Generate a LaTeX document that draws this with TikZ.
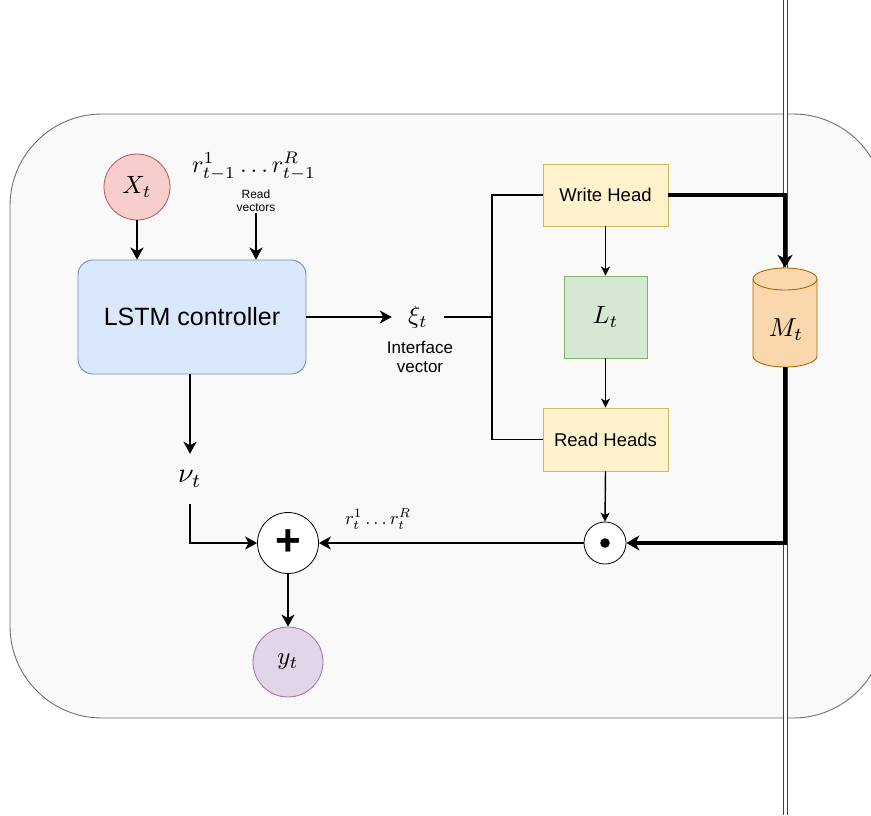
\RequirePackage{fix-cm}
\documentclass[tikz,border=0pt]{standalone}
\usepackage{fontspec}
\setmainfont{Liberation Sans}
\usetikzlibrary{arrows.meta}
\definecolor{bgfill}{HTML}{F9F9F9}
\definecolor{bgdraw}{HTML}{707070}
\definecolor{xfill}{HTML}{F8CECC}
\definecolor{xdraw}{HTML}{B85450}
\definecolor{bfill}{HTML}{DAE8FC}
\definecolor{bdraw}{HTML}{6C8EBF}
\definecolor{yfill}{HTML}{FFF2CC}
\definecolor{ydraw}{HTML}{D6B656}
\definecolor{gfill}{HTML}{D5E8D4}
\definecolor{gdraw}{HTML}{82B366}
\definecolor{ofill}{HTML}{FAD7AC}
\definecolor{odraw}{HTML}{B46504}
\definecolor{pfill}{HTML}{E1D5E7}
\definecolor{pdraw}{HTML}{9673A6}
\newcommand{\mbx}[2][2.5]{\scalebox{#1}{$#2$}}
\begin{document}
\begin{tikzpicture}[x=1pt,y=-1pt,
  circ/.style={circle, draw, line width=0.8pt, inner sep=0pt},
  box/.style={rectangle, draw, line width=0.9pt, inner sep=0pt},
  lbl/.style={font=\fontsize{17}{19}\selectfont, align=center},
  thn/.style={line width=1.4pt},
  thk/.style={line width=2.3pt},
  vthk/.style={line width=3.4pt},
  arrS/.style={-{Stealth[length=9pt,width=9pt,inset=2.5pt]}},
  arrM/.style={-{Stealth[length=12pt,width=13pt,inset=3.5pt]}},
  arrL/.style={-{Stealth[length=13pt,width=15pt,inset=4pt]}}]
\useasboundingbox (0,0) rectangle (871,815);
% background container
\draw[fill=bgfill, draw=bgdraw, line width=0.9pt, rounded corners=92pt] (10,114) rectangle (885,718);
% vertical double line
\coordinate (vt) at (785.5,0);
\coordinate (vb) at (785.5,815);
\draw[double=white, double distance=3.6pt, line width=0.9pt, draw=black!75] (vt) -- (vb);

% nodes
\node[circ, fill=xfill, draw=xdraw, minimum size=66pt] (X) at (137,187) {\mbx{X_t}};
\node[inner sep=0pt] (rv) at (254,166) {\mbx[2.4]{r^1_{t-1}\dots r^R_{t-1}}};
\node[font=\fontsize{12}{13}\selectfont, align=center, inner sep=1pt] (rvl) at (256,201) {Read\\vectors};
\node[box, rounded corners=15pt, fill=bfill, draw=bdraw, minimum width=228pt, minimum height=114pt,
      font=\fontsize{25}{25}\selectfont] (L) at (192,317) {LSTM controller};
\node[minimum width=52pt, inner sep=0pt] (xi) at (418,317) {\mbx{\xi_t}};
\node[lbl] (iv) at (420,357) {Interface\\vector};
\coordinate (J) at (492,317);
\node[box, fill=yfill, draw=ydraw, minimum width=125pt, minimum height=62pt,
      font=\fontsize{18.5}{19}\selectfont] (W) at (605.5,195) {Write Head};
\node[box, fill=gfill, draw=gdraw, minimum width=83pt, minimum height=82pt] (Lt) at (605.5,317) {\mbx{L_t}};
\node[box, fill=yfill, draw=ydraw, minimum width=125pt, minimum height=63pt,
      font=\fontsize{18.5}{19}\selectfont] (R) at (605.5,439.5) {Read Heads};
\node[circ, fill=white, draw=black, minimum size=42pt] (od) at (605,543) {};
\fill (od.center) circle (4.8);
\node[circ, fill=white, draw=black, minimum size=61pt, font=\fontsize{44}{44}\selectfont\bfseries] (P) at (288,543) {\raisebox{1.5pt}{+}};
\node[circ, fill=pfill, draw=pdraw, minimum size=70pt] (Y) at (288,662) {\mbx{y_t}};
\node[minimum height=50pt, inner sep=0pt] (nu) at (190,479) {\mbx[2.8]{\nu_t}};
\node[inner sep=1pt] (rt) at (378,519) {\mbx[1.85]{r^1_t\dots r^R_t}};
% memory cylinder
\node[minimum width=64pt, minimum height=99pt, inner sep=0pt] (M) at (785,317.5) {};
\filldraw[fill=ofill, draw=odraw, line width=0.9pt] (753,279) -- (753,356) arc[start angle=180,end angle=0,x radius=32,y radius=11] -- (817,279) arc[start angle=0,end angle=-180,x radius=32,y radius=11] -- cycle;
\draw[draw=odraw, line width=0.9pt] (753,279) arc[start angle=180,end angle=0,x radius=32,y radius=11];
\node at (786,330) {\mbx[2.6]{M_t}};

% connectors
\draw[thk, arrM] (X.south) -- (X.south |- L.north);
\draw[thk, arrM] (rvl.south) -- (rvl.south |- L.north);
\draw[thk, arrM] (L.east) -- (xi.west);
\draw[thn] (xi.east) -- (J);
\draw[thn] (W.west) -- (W.west -| J) -- (R.west -| J) -- (R.west);
\draw[thn, arrS] (W.south) -- (Lt.north);
\draw[thn, arrS] (Lt.south) -- (R.north);
\draw[thn, arrS] (R.south) -- (od.north);
\draw[vthk, arrL] (W.east) -| (M.north);
\draw[vthk, arrL] (M.south) |- (od.east);
\draw[thk, arrM] (od.west) -- (P.east);
\draw[thk, arrM] (L.south -| nu) -- (nu.north);
\draw[thk, arrM] (nu.south) |- (P.west);
\draw[thk, arrM] (P.south) -- (Y.north);
\end{tikzpicture}
\end{document}
